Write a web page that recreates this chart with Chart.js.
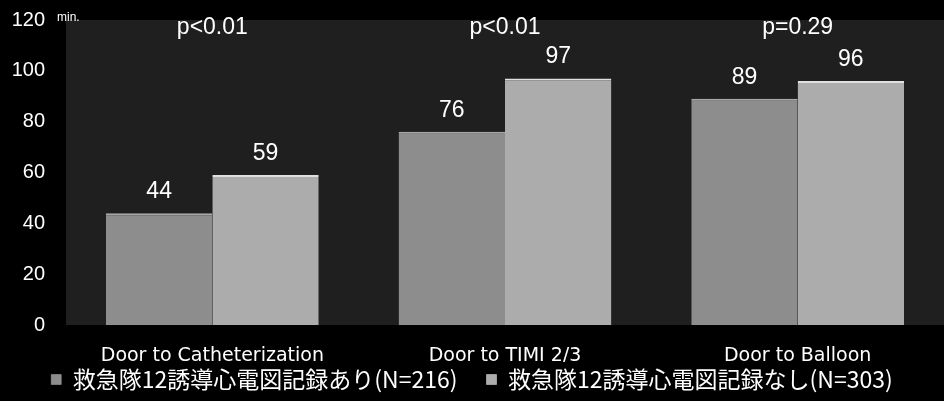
<!DOCTYPE html>
<html>
<head>
<meta charset="utf-8">
<script src="https://cdn.jsdelivr.net/npm/chart.js@4"></script>
<style>
  html, body {margin: 0; padding: 0; background: #000;}
  #wrap {width: 944px; height: 401px;}
</style>
</head>
<body>
<div id="wrap"><canvas id="door-chart"></canvas></div>
<script>
const categories = ['Door to Catheterization', 'Door to TIMI 2/3', 'Door to Balloon'];
const withEcg = [44, 76, 89];
const withoutEcg = [59, 97, 96];
const pValues = ['p<0.01', 'p<0.01', 'p=0.29'];
const seriesNames = ['救急隊12誘導心電図記録あり(N=216)', '救急隊12誘導心電図記録なし(N=303)'];
const yTicks = [0, 20, 40, 60, 80, 100, 120];

const FONT = "'Liberation Sans', Arial, sans-serif";

// dark panel behind the bars, plus unit / p-value / value labels
const annotate = {
  id: 'annotate',
  beforeDatasetsDraw(chart) {
    const {ctx, chartArea: a} = chart;
    ctx.save();
    ctx.fillStyle = '#1f1f1f';
    ctx.fillRect(a.left, a.top, a.right - a.left, a.bottom - a.top);
    ctx.restore();
  },
  afterDatasetsDraw(chart) {
    const {ctx, chartArea: a, scales: {x}} = chart;
    ctx.save();
    ctx.fillStyle = '#fff';
    ctx.textAlign = 'left';
    ctx.textBaseline = 'middle';
    ctx.font = `12px ${FONT}`;
    ctx.fillText('min.', a.left - 9, a.top - 2);

    ctx.textAlign = 'center';
    ctx.font = `23px ${FONT}`;
    pValues.forEach((p, i) => ctx.fillText(p, x.getPixelForValue(i), a.top + 8));

    ctx.textBaseline = 'bottom';
    chart.data.datasets.forEach((ds, di) => {
      chart.getDatasetMeta(di).data.forEach((bar, i) => {
        ctx.fillText(String(ds.data[i]), bar.x, bar.y - 10);
      });
    });
    ctx.restore();
  }
};

new Chart(document.getElementById('door-chart').getContext('2d'), {
  type: 'bar',
  data: {
    labels: categories,
    datasets: [
      {label: seriesNames[0], data: withEcg, backgroundColor: '#8d8d8d',
       borderColor: '#a8a8a8', borderWidth: {top: 2, left: 0, right: 0, bottom: 0}, borderSkipped: false},
      {label: seriesNames[1], data: withoutEcg, backgroundColor: '#acacac',
       borderColor: '#e0e0e0', borderWidth: {top: 2, left: 0, right: 0, bottom: 0}, borderSkipped: false}
    ]
  },
  options: {
    responsive: true,
    maintainAspectRatio: false,
    animation: false,
    layout: {padding: {top: 20, right: 0, left: 0, bottom: 0}},
    datasets: {bar: {barPercentage: 1, categoryPercentage: 0.727}},
    scales: {
      x: {
        afterFit: s => { s.height = 37; },
        grid: {display: false},
        border: {display: false},
        ticks: {color: '#fff', font: {family: "'DejaVu Sans', sans-serif", size: 19}, padding: 12}
      },
      y: {
        min: 0, max: 120,
        afterBuildTicks: s => { s.ticks = yTicks.map(v => ({value: v})); },
        afterFit: s => { s.width = 66; s.paddingTop = 0; s.paddingBottom = 0; },
        grid: {display: false},
        border: {display: false},
        ticks: {color: '#fff', font: {family: FONT, size: 20}, padding: 13}
      }
    },
    plugins: {
      legend: {
        position: 'bottom',
        labels: {
          color: '#fff',
          boxWidth: 10, boxHeight: 10, padding: 6,
          font: {family: "'Noto Sans CJK JP', sans-serif", size: 23},
          // wider gap between the two entries
          generateLabels: chart => Chart.defaults.plugins.legend.labels.generateLabels(chart)
            .map((item, i, all) => i < all.length - 1 ? {...item, text: item.text + '\u2003'} : item)
        }
      },
      tooltip: {enabled: false}
    }
  },
  plugins: [annotate]
});
</script>
</body>
</html>
